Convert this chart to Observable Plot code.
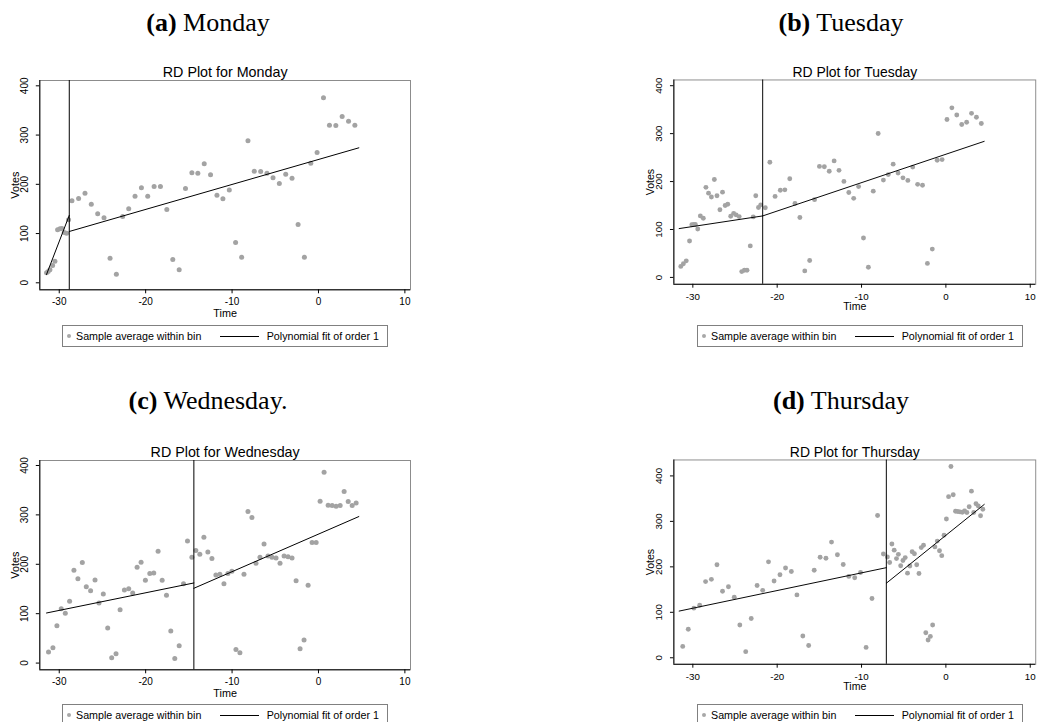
<!DOCTYPE html>
<html>
<head>
<meta charset="utf-8">
<script src="https://cdn.jsdelivr.net/npm/d3@7"></script>
<script src="https://cdn.jsdelivr.net/npm/@observablehq/plot@0.6"></script>
<style>
html, body { margin: 0; padding: 0; background: #fff; overflow: hidden; }
#page { position: relative; width: 1045px; height: 722px; overflow: hidden; background: #fff; }
.heading { position: absolute; width: 420px; text-align: center; font-family: "Liberation Serif", "Times New Roman", serif; font-size: 26px; line-height: 26px; color: #000; white-space: nowrap; }
.heading b { font-weight: bold; }
.panel { position: absolute; }
.legend { position: absolute; height: 20px; border: 1px solid #808080; font-family: "Liberation Sans", Arial, sans-serif; font-size: 10.7px; line-height: 20px; color: #000; background: #fff; box-sizing: content-box; }
.legend .dot { position: absolute; width: 4px; height: 4px; border-radius: 50%; background: #a8a8a8; top: 8px; }
.legend .ln { position: absolute; height: 0; border-top: 1px solid #000; top: 10px; }
.legend span.t { position: absolute; top: 0; white-space: nowrap; }
</style>
</head>
<body>
<div id="page"></div>
<script>
// ---------- data ----------
const days = ["Monday", "Tuesday", "Wednesday", "Thursday"];
const panelLetters = ["(a)", "(b)", "(c)", "(d)"];
const panelNames = ["Monday", "Tuesday", "Wednesday.", "Thursday"];
const xTicks = [-30, -20, -10, 0, 10];
const yTicks = [0, 100, 200, 300, 400];
const legendLabels = ["Sample average within bin", "Polynomial fit of order 1"];

// [time, votes]
const mondayPoints = [
  [-31.47,20.3],[-31.28,23],[-31.08,26.4],[-30.77,35.2],[-30.5,44],
  [-30.19,107.6],[-29.92,109.6],[-29.69,110.3],[-29.42,102.2],[-29.15,100.8],[-28.92,127.9],
  [-28.53,166.5],[-27.76,171.2],[-27.02,182],[-26.29,159.7],[-25.55,140.1],[-24.82,132],
  [-24.12,50.1],[-23.39,17.6],[-22.66,134.7],[-21.96,150.3],[-21.23,176],[-20.49,192.9],
  [-19.76,176],[-19.02,195.6],[-18.29,195.6],[-17.55,148.9],[-16.86,47.4],[-16.12,26.4],
  [-15.39,191.5],[-14.65,223.4],[-13.96,222.7],[-13.22,241.6],[-12.49,219.3],[-11.75,178],
  [-11.06,170.6],[-10.32,188.2],[-9.59,81.9],[-8.89,52.1],[-8.16,288.3],[-7.43,226.7],
  [-6.69,226.1],[-5.96,222.7],[-5.26,213.2],[-4.53,201.7],[-3.79,220.6],[-3.06,212.5],
  [-2.36,118.4],[-1.63,52.1],[-0.89,243],[-0.16,264.6],[0.58,375.6],[1.27,320.1],
  [2.01,319.5],[2.74,337.7],[3.48,328.3],[4.21,320.1]
];
const tuesdayPoints = [
  [-31.43,23],[-31.12,28.5],[-30.78,34.6],[-30.39,76],[-30.12,110],[-29.9,110.6],[-29.7,110.3],
  [-29.42,101.1],[-29.11,128.3],[-28.76,123.5],[-28.45,188],[-28.14,175.8],[-27.8,167.7],
  [-27.45,204.4],[-27.14,170.4],[-26.79,141.2],[-26.48,177.9],[-26.17,150],[-25.86,152.8],
  [-25.51,127.6],[-25.16,133.7],[-24.86,130.4],[-24.51,126.9],[-24.2,12.2],[-23.89,14.9],
  [-23.58,14.9],[-23.19,65.8],[-22.84,126.3],[-22.54,170.4],[-22.22,145.9],[-21.95,151.4],
  [-21.41,145.3],[-20.87,240.4],[-20.25,169.1],[-19.63,182],[-19.09,182.7],[-18.51,205.8],
  [-17.89,154.2],[-17.31,125],[-16.73,13.6],[-16.15,35.3],[-15.57,162.3],[-14.99,231.6],
  [-14.41,230.9],[-13.83,221.4],[-13.25,243.1],[-12.67,223.4],[-12.09,200.3],[-11.51,177.3],
  [-10.93,165],[-10.35,189.5],[-9.77,82.2],[-9.19,21.1],[-8.61,180],[-8.03,300.2],
  [-7.41,203.1],[-6.83,214.6],[-6.25,236.3],[-5.67,218],[-5.09,207.8],[-4.51,202.4],
  [-3.93,230.2],[-3.35,194.2],[-2.77,192.2],[-2.19,29.2],[-1.61,59.1],[-1.03,244.5],
  [-0.45,245.8],[0.13,329.4],[0.71,353.8],[1.29,338.9],[1.88,319.2],[2.46,323.9],
  [3.04,342.3],[3.62,334.1],[4.2,321.2]
];
const wednesdayPoints = [
  [-31.24,22.3],[-30.73,31.1],[-30.27,75.7],[-29.77,110.1],[-29.3,100.7],[-28.8,125],
  [-28.3,187.8],[-27.84,170.9],[-27.33,203.4],[-26.87,154.7],[-26.37,146.6],[-25.86,168.2],
  [-25.4,121.6],[-24.9,139.9],[-24.39,70.9],[-23.93,10.8],[-23.43,18.9],[-22.96,108.1],
  [-22.46,148],[-21.96,150.7],[-21.5,141.9],[-20.99,193.9],[-20.53,204.1],[-20.03,167.6],
  [-19.52,181.1],[-19.06,182.4],[-18.56,226.4],[-18.09,167.6],[-17.59,137.2],[-17.09,64.9],
  [-16.63,9.5],[-16.12,35.1],[-15.62,160.8],[-15.16,247.3],[-14.65,214.2],[-14.19,227.7],
  [-13.73,220.3],[-13.26,254.7],[-12.8,225],[-12.33,211.5],[-11.87,178.4],[-11.41,179.7],
  [-10.94,160.8],[-10.48,181.1],[-10.02,185.8],[-9.55,27.7],[-9.09,20.9],[-8.62,179.7],
  [-8.16,306.8],[-7.7,294.6],[-7.23,202],[-6.77,214.2],[-6.3,241.2],[-5.84,216.9],
  [-5.38,214.2],[-4.91,212.8],[-4.45,202],[-3.98,216.9],[-3.52,215.5],[-3.06,212.8],
  [-2.59,166.9],[-2.13,29.1],[-1.67,46.6],[-1.2,157.4],[-0.74,243.9],[-0.27,243.9],
  [0.19,327.7],[0.65,386.5],[1.12,319.6],[1.58,318.9],[2.04,317.6],[2.51,318.9],
  [2.97,347.3],[3.44,327],[3.9,318.9],[4.36,324.3]
];
const thursdayPoints = [
  [-31.2,25],[-30.54,62.7],[-29.88,109.1],[-29.19,115.5],[-28.49,167.6],[-27.8,172.5],
  [-27.14,204.6],[-26.48,146.2],[-25.78,156.1],[-25.09,133.3],[-24.43,72],[-23.73,13.5],
  [-23.08,86.3],[-22.38,159],[-21.72,148.3],[-21.03,211],[-20.37,169],[-19.67,182.5],
  [-19.01,197.5],[-18.32,189.7],[-17.66,138.3],[-16.96,47.8],[-16.27,27.1],[-15.61,192.5],
  [-14.91,221],[-14.22,218.9],[-13.56,254.5],[-12.86,226.7],[-12.17,205.3],[-11.51,179],
  [-10.81,176.1],[-10.12,187.5],[-9.46,22.8],[-8.76,130.5],[-8.1,313],[-7.41,228.2],
  [-6.94,221.7],[-6.67,209.6],[-6.4,250.2],[-6.13,236.7],[-5.86,218.2],[-5.63,227.5],
  [-5.36,202.5],[-5.09,213.9],[-4.82,220.3],[-4.55,186.1],[-4.27,201.8],[-4.0,233.2],
  [-3.73,228.9],[-3.46,204.6],[-3.19,185.4],[-2.92,242.4],[-2.65,247.4],[-2.38,54.9],
  [-2.11,39.2],[-1.84,47],[-1.57,72],[-1.3,243.8],[-1.02,256.7],[-0.76,235.3],
  [-0.49,224.6],[-0.22,269.5],[0.06,305.2],[0.32,354.4],[0.6,420.7],[0.87,358.6],
  [1.14,322.3],[1.41,321.6],[1.68,320.9],[1.95,320.1],[2.22,322.9],[2.49,319.4],
  [2.76,332.3],[3.03,366.5],[3.3,319.4],[3.57,338.7],[3.84,333.7],[4.11,312.3],[4.38,326.6]
];

// cutoff (vertical line) per day
const cutoffs = [-28.84, -21.72, -14.42, -7.06];

// fitted lines: [segment, time, votes]
const mondayFit = [[0,-31.47,17],[0,-28.84,137],[1,-28.84,104.2],[1,4.67,274.1]];
const tuesdayFit = [[0,-31.62,101.9],[0,-21.72,128.3],[1,-21.72,128.3],[1,4.54,283.9]];
const wednesdayFit = [[0,-31.47,101.4],[0,-14.42,162.2],[1,-14.42,151.4],[1,4.67,296.6]];
const thursdayFit = [[0,-31.62,102.7],[0,-7.06,198.2],[1,-7.06,164],[1,4.55,337.3]];

// ---------- layout ----------
const xDomain = [-32.25, 10.65];
const yDomains = [[-14.2, 410.8], [-14.3, 412], [-13.6, 410.1], [-14.3, 435.1]];
const pointsByDay = [mondayPoints, tuesdayPoints, wednesdayPoints, thursdayPoints];
const fitByDay = [mondayFit, tuesdayFit, wednesdayFit, thursdayFit];

const colLeft = [0, 635];
const headingBaseline = [31.7, 409.3];
const svgTop = [58, 437.5];
const legendTop = [325, 704];

const page = document.getElementById("page");
const sans = "'Liberation Sans', Arial, sans-serif";
const plainFormat = d => String(d);

function makePanel(i) {
  const yDom = yDomains[i];
  const fit = fitByDay[i].map(([seg, t, v]) => ({seg, t, v}));
  return Plot.plot({
    width: 420,
    height: 266,
    marginLeft: 39.3,
    marginRight: 10,
    marginTop: 22,
    marginBottom: 34.7,
    x: {domain: xDomain},
    y: {domain: yDom},
    style: {fontFamily: sans, fontSize: "10px", color: "#000", background: "#fff", overflow: "visible"},
    marks: [
      Plot.frame({stroke: "#8c8c8c", strokeWidth: 1}),
      Plot.dot(pointsByDay[i], {x: d => d[0], y: d => d[1], r: 2.5, fill: "#a3a3a3", stroke: "none"}),
      Plot.ruleX([cutoffs[i]], {stroke: "#000", strokeWidth: 1}),
      Plot.line(fit, {x: "t", y: "v", z: "seg", stroke: "#000", strokeWidth: 1}),
      Plot.ruleX([xDomain[0]], {stroke: "#000", strokeWidth: 1}),
      Plot.ruleY([yDom[0]], {stroke: "#000", strokeWidth: 1}),
      Plot.axisX({ticks: xTicks, tickSize: 4, tickPadding: 4.5, label: null, fontSize: 10, tickFormat: plainFormat}),
      Plot.axisY({ticks: yTicks, tickSize: 3.5, tickPadding: 8.5, tickRotate: -90, label: null, fontSize: 10, tickFormat: plainFormat}),
      Plot.text(["Votes"], {frameAnchor: "left", dx: -24, rotate: -90, textAnchor: "middle", lineAnchor: "middle", fontSize: 10.8}),
      Plot.text(["Time"], {frameAnchor: "bottom", dy: 23.4, textAnchor: "middle", lineAnchor: "middle", fontSize: 10.8}),
      Plot.text(["RD Plot for " + days[i]], {frameAnchor: "top", dy: -8, textAnchor: "middle", lineAnchor: "middle", fontSize: 14.3})
    ]
  });
}

for (let i = 0; i < 4; i++) {
  const col = i % 2, row = Math.floor(i / 2);
  const left = colLeft[col];

  const h = document.createElement("div");
  h.className = "heading";
  h.style.left = (left - 2 + (col ? -2 : 0)) + "px";
  h.style.top = (headingBaseline[row] - 21.8) + "px";
  h.innerHTML = "<b>" + panelLetters[i] + "</b> " + panelNames[i];
  page.appendChild(h);

  const wrap = document.createElement("div");
  wrap.className = "panel";
  wrap.style.left = left + "px";
  wrap.style.top = svgTop[row] + "px";
  wrap.appendChild(makePanel(i));
  page.appendChild(wrap);

  const lg = document.createElement("div");
  lg.className = "legend";
  lg.style.left = (left + 62) + "px";
  lg.style.top = legendTop[row] + "px";
  lg.style.width = "324px";
  lg.innerHTML =
    '<div class="dot" style="left:4.3px"></div>' +
    '<span class="t" style="left:13px">' + legendLabels[0] + '</span>' +
    '<div class="ln" style="left:157px;width:39px"></div>' +
    '<span class="t" style="left:203.7px">' + legendLabels[1] + '</span>';
  page.appendChild(lg);
}
</script>
</body>
</html>
